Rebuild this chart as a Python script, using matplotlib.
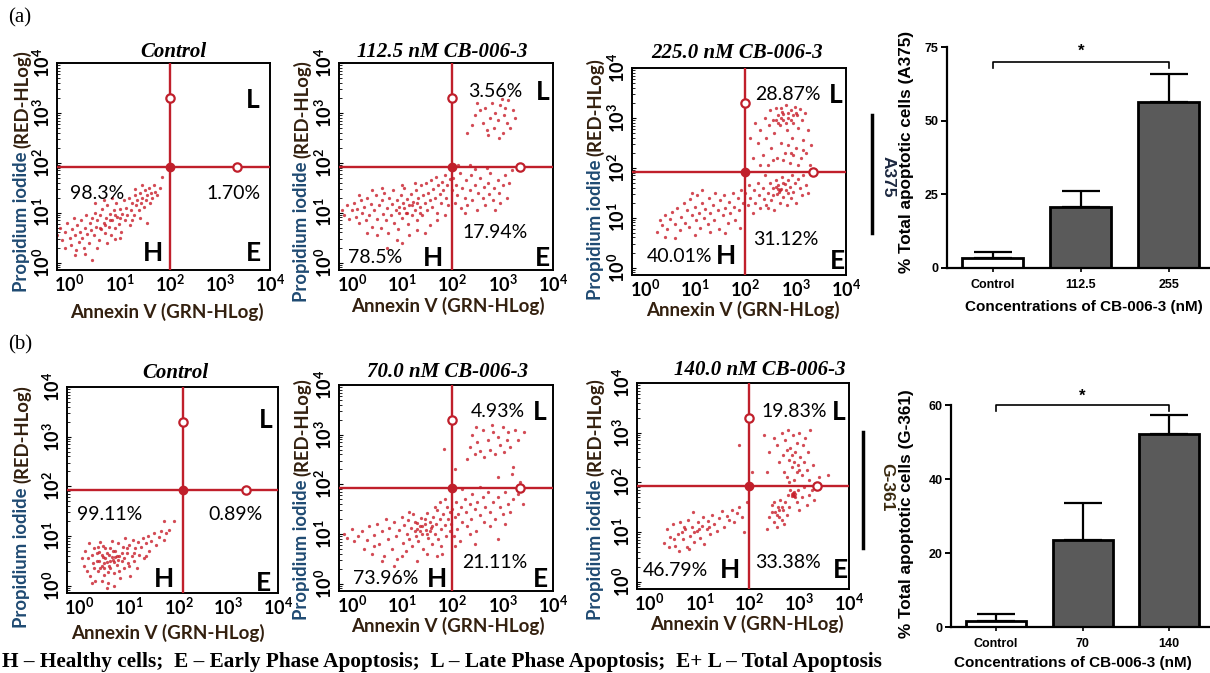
import numpy as np
import matplotlib
matplotlib.use('Agg')
import matplotlib.pyplot as plt
from matplotlib.lines import Line2D
from matplotlib.ticker import LogLocator, NullLocator

W, H = 1210, 673
plt.rcParams['font.family'] = ['Lato', 'DejaVu Sans']
plt.rcParams['mathtext.fontset'] = 'custom'
plt.rcParams['mathtext.rm'] = 'Lato'
plt.rcParams['mathtext.bf'] = 'Lato:bold'
plt.rcParams['mathtext.it'] = 'Lato:italic'

RED = '#c01f2b'
DOT = '#c81e2a'
PI_BLUE = '#1f4a72'
BROWN = '#33200f'

# ---- flow cytometry events, log10 decades: (Annexin V, Propidium iodide) ----
a375_ctrl = np.array([
    (-0.25, 0.55), (-0.2, 0.7), (-0.15, 0.45), (-0.1, 0.62), (-0.05, 0.8), (0.0, 0.5), (0.02, 0.35),
    (0.05, 0.68), (0.08, 0.9), (0.1, 0.55), (0.12, 0.25), (0.15, 0.75), (0.18, 0.42), (0.2, 0.62),
    (0.22, 0.85), (0.25, 0.5), (0.28, 0.3), (0.3, 0.7), (0.32, 0.95), (0.35, 0.58), (0.38, 0.4),
    (0.4, 0.8), (0.1, 0.15), (0.3, 0.18), (0.45, 0.05), (-0.1, 0.3), (0.42, 0.65), (0.45, 0.9),
    (0.48, 0.55), (0.5, 1.0), (0.52, 0.72), (0.55, 0.85), (0.58, 0.45), (0.6, 0.95), (0.62, 0.68),
    (0.65, 1.08), (0.68, 0.8), (0.7, 0.6), (0.72, 0.9), (0.75, 1.15), (0.78, 0.72), (0.8, 0.98),
    (0.82, 0.55), (0.85, 0.85), (0.88, 1.05), (0.9, 0.7), (0.92, 1.2), (0.95, 0.92), (0.98, 0.78),
    (1.0, 1.08), (1.02, 0.62), (1.05, 0.98), (1.08, 1.25), (1.1, 0.85), (1.12, 1.1), (1.15, 0.95),
    (1.18, 1.3), (1.2, 0.75), (0.55, 0.3), (0.75, 0.4), (0.9, 0.48), (0.5, 1.2), (0.68, 1.25),
    (0.85, 1.3), (1.0, 0.5), (1.22, 1.05), (1.25, 1.2), (1.28, 0.95), (1.3, 1.35), (1.32, 1.15),
    (1.35, 1.25), (1.38, 1.05), (1.4, 1.4), (1.42, 1.2), (1.45, 1.3), (1.48, 1.12), (1.5, 1.45),
    (1.52, 1.25), (1.55, 1.35), (1.58, 1.5), (1.6, 1.2), (1.62, 1.4), (1.65, 1.3), (1.68, 1.55),
    (1.7, 1.42), (1.75, 1.35), (1.8, 1.5), (1.25, 0.85), (1.4, 0.9), (1.55, 0.8), (1.85, 1.72),
    (1.45, 1.55), (1.3, 1.48), (0.7, 0.75), (0.8, 0.85), (0.9, 0.95), (1.0, 0.9), (0.6, 0.7),
])
a375_112 = np.array([
    (2.3, 2.6), (2.45, 2.95), (2.55, 3.05), (2.6, 2.8), (2.65, 3.1), (2.7, 2.55), (2.75, 2.9),
    (2.78, 3.2), (2.82, 2.7), (2.85, 3.0), (2.9, 2.85), (2.95, 3.15), (3.0, 2.6), (3.02, 2.95),
    (3.08, 2.8), (3.1, 3.25), (3.15, 2.7), (3.2, 3.05), (3.25, 2.9), (2.5, 3.2), (2.68, 2.65),
    (2.92, 2.5), (3.05, 3.1), (2.4, 2.75), (2.98, 3.28),
    (-0.2, 1.05), (-0.15, 0.95), (-0.1, 1.15), (-0.05, 0.88), (0.0, 1.05), (0.05, 1.2), (0.08, 0.92),
    (0.1, 1.08), (0.15, 0.8), (0.18, 1.25), (0.2, 1.0), (0.25, 1.12), (0.28, 0.85), (0.3, 1.3),
    (0.35, 0.95), (0.38, 1.18), (0.4, 0.72), (0.45, 1.05), (0.48, 1.35), (0.5, 0.88), (0.55, 1.15),
    (0.58, 0.7), (0.6, 1.25), (0.62, 0.98), (0.65, 1.4), (0.68, 0.85), (0.7, 1.1), (0.72, 0.6),
    (0.75, 1.3), (0.78, 0.95), (0.8, 1.18), (0.82, 1.45), (0.85, 0.8), (0.88, 1.05), (0.9, 1.25),
    (0.92, 0.68), (0.95, 1.12), (0.98, 1.35), (1.0, 0.9), (1.02, 1.2), (1.05, 1.5), (1.08, 1.0),
    (1.1, 1.28), (1.12, 0.78), (1.15, 1.15), (1.18, 1.38), (1.2, 0.95), (1.22, 1.22), (1.25, 1.05),
    (1.28, 1.45), (1.3, 0.85), (1.32, 1.3), (1.35, 1.12), (1.38, 1.55), (1.4, 0.95), (1.42, 1.35),
    (1.45, 1.2), (1.48, 1.6), (1.5, 1.05), (1.52, 1.4), (1.55, 1.25), (1.58, 1.65), (1.6, 1.12),
    (1.62, 1.48), (1.65, 1.3), (1.68, 1.72), (1.7, 1.0), (1.72, 1.55), (1.75, 1.38), (1.78, 1.2),
    (1.8, 1.62), (1.82, 1.45), (1.85, 1.75), (1.88, 1.3), (1.9, 1.55), (1.92, 1.15), (1.95, 1.68),
    (0.9, 0.45), (1.15, 0.55), (1.3, 0.65), (1.55, 0.75), (0.7, 0.3), (1.0, 0.4), (0.3, 0.6),
    (0.5, 0.55), (1.25, 1.6), (1.0, 1.55), (0.6, 1.5), (1.7, 0.85), (1.45, 0.6), (1.85, 0.95),
    (0.15, 1.35), (0.4, 1.45), (1.1, 1.0), (1.35, 1.0), (1.2, 1.15), (1.05, 1.1), (1.3, 1.2),
    (0.95, 1.0),
    (2.0, 1.45), (2.02, 1.7), (2.05, 1.2), (2.08, 1.55), (2.1, 1.35), (2.15, 1.8), (2.18, 1.1),
    (2.2, 1.5), (2.25, 1.3), (2.28, 1.65), (2.3, 1.15), (2.35, 1.45), (2.38, 1.75), (2.4, 1.25),
    (2.45, 1.55), (2.5, 1.05), (2.52, 1.4), (2.55, 1.7), (2.6, 1.3), (2.62, 1.52), (2.65, 1.15),
    (2.7, 1.6), (2.72, 1.38), (2.75, 1.8), (2.8, 1.25), (2.82, 1.5), (2.85, 1.05), (2.9, 1.65),
    (2.92, 1.4), (2.95, 1.2), (3.0, 1.55), (3.05, 1.75), (3.08, 1.3), (3.12, 1.6), (3.18, 1.85),
    (2.25, 1.0), (2.45, 1.88), (2.68, 1.9), (2.12, 1.95), (2.35, 1.95),
])
a375_225 = np.array([
    (0.25, 0.72), (0.3, 0.95), (0.35, 0.85), (0.4, 1.05), (0.45, 0.78), (0.5, 0.98), (0.55, 1.12),
    (0.6, 0.88), (0.65, 1.2), (0.7, 0.75), (0.72, 1.02), (0.78, 1.3), (0.8, 0.9), (0.85, 1.15),
    (0.88, 0.82), (0.9, 1.38), (0.95, 1.05), (1.0, 1.22), (1.02, 0.95), (1.05, 1.45), (1.08, 1.1),
    (1.1, 0.8), (1.15, 1.3), (1.18, 1.0), (1.2, 1.18), (1.25, 0.88), (1.28, 1.4), (1.3, 1.1),
    (1.35, 1.25), (1.38, 0.95), (1.4, 1.5), (1.45, 1.15), (1.48, 0.78), (1.5, 1.35), (1.55, 1.05),
    (1.58, 1.45), (1.6, 1.2), (1.65, 0.9), (1.68, 1.32), (1.7, 1.1), (1.75, 1.5), (1.78, 1.22),
    (1.8, 0.95), (1.85, 1.4), (1.88, 1.15), (1.92, 1.55), (1.95, 1.3), (0.6, 0.6), (1.0, 0.65),
    (1.3, 0.72), (1.9, 0.8), (0.4, 0.62), (0.95, 1.5), (1.6, 0.7), (1.15, 1.55),
    (2.0, 1.5), (2.05, 1.25), (2.08, 1.65), (2.1, 1.4), (2.15, 1.1), (2.18, 1.55), (2.2, 1.3),
    (2.25, 1.7), (2.28, 1.45), (2.3, 1.2), (2.35, 1.6), (2.38, 1.38), (2.4, 1.85), (2.42, 1.25),
    (2.45, 1.5), (2.5, 1.7), (2.52, 1.35), (2.55, 1.6), (2.58, 1.15), (2.6, 1.75), (2.62, 1.48),
    (2.65, 1.65), (2.68, 1.3), (2.7, 1.58), (2.72, 1.82), (2.75, 1.42), (2.78, 1.68), (2.8, 1.55),
    (2.82, 1.25), (2.85, 1.75), (2.88, 1.62), (2.9, 1.4), (2.92, 1.85), (2.95, 1.52), (2.98, 1.7),
    (3.0, 1.3), (3.05, 1.78), (3.08, 1.6), (3.12, 1.45), (3.15, 1.85), (3.2, 1.65), (3.25, 1.5),
    (2.6, 1.62), (2.64, 1.58), (2.68, 1.55), (2.66, 1.52), (2.55, 1.45), (2.75, 1.7), (2.45, 1.2),
    (2.85, 1.5),
    (2.2, 2.9), (2.25, 2.5), (2.3, 2.75), (2.35, 2.25), (2.4, 3.0), (2.42, 2.6), (2.45, 2.05),
    (2.48, 2.85), (2.5, 3.15), (2.52, 2.4), (2.55, 2.95), (2.58, 2.7), (2.6, 3.2), (2.62, 2.2),
    (2.65, 3.05), (2.68, 2.85), (2.7, 2.5), (2.72, 3.12), (2.75, 2.95), (2.78, 2.3), (2.8, 3.25),
    (2.82, 2.75), (2.85, 3.0), (2.88, 2.1), (2.9, 3.15), (2.92, 2.6), (2.95, 2.9), (2.98, 3.22),
    (3.0, 2.4), (3.02, 3.05), (3.05, 2.8), (3.08, 3.18), (3.1, 2.2), (3.12, 2.95), (3.15, 2.55),
    (3.18, 3.1), (3.2, 2.3), (3.25, 2.75), (3.28, 2.05), (3.3, 2.45), (2.6, 2.95), (2.7, 3.0),
    (2.75, 3.08), (2.85, 3.1), (2.9, 2.95), (2.95, 3.05), (2.65, 2.9), (2.8, 2.9), (3.0, 3.1),
    (2.7, 3.2), (2.85, 2.45), (2.95, 2.25), (3.05, 2.05), (2.75, 2.15), (2.55, 2.15), (3.15, 2.35),
    (2.9, 2.3), (2.3, 2.05), (2.1, 2.6), (2.15, 2.2),
])
g361_ctrl = np.array([
    (0.05, 0.55), (0.1, 0.4), (0.12, 0.7), (0.15, 0.3), (0.18, 0.55), (0.2, 0.85), (0.22, 0.2),
    (0.25, 0.62), (0.28, 0.45), (0.3, 0.75), (0.32, 0.1), (0.35, 0.5), (0.38, 0.3), (0.4, 0.68),
    (0.42, 0.88), (0.45, 0.4), (0.48, 0.58), (0.5, 0.22), (0.52, 0.75), (0.55, 0.48), (0.58, 0.05),
    (0.6, 0.62), (0.62, 0.35), (0.65, 0.9), (0.68, 0.52), (0.7, 0.25), (0.72, 0.7), (0.75, 0.42),
    (0.78, 0.85), (0.8, 0.6), (0.82, 0.15), (0.85, 0.5), (0.88, 0.78), (0.9, 0.35), (0.92, 0.95),
    (0.95, 0.65), (0.98, 0.45), (1.0, 0.82), (1.02, 0.2), (1.05, 0.6), (1.08, 0.92), (1.1, 0.5),
    (1.12, 0.75), (1.15, 0.35), (1.18, 0.88), (1.2, 0.62), (1.25, 0.78), (1.28, 0.95), (1.3, 0.55),
    (1.35, 0.85), (1.38, 1.0), (1.4, 0.7), (1.45, 0.9), (1.5, 1.05), (1.55, 0.82), (1.6, 0.98),
    (1.65, 1.1), (1.7, 0.92), (1.75, 1.05), (1.8, 1.12), (0.4, 0.5), (0.45, 0.62), (0.5, 0.45),
    (0.55, 0.65), (0.6, 0.4), (0.65, 0.58), (0.7, 0.48), (0.75, 0.6), (0.42, 0.35), (0.58, 0.28),
    (0.62, 0.75), (0.48, 0.8), (0.68, 0.7), (0.52, 0.55), (0.35, 0.65), (0.3, 0.35), (0.8, 0.3),
    (0.9, 0.55), (1.0, 0.4), (0.55, -0.05), (0.7, 0.0), (0.45, 0.1), (0.25, 0.05), (0.85, 0.65),
    (0.95, 0.75), (1.1, 0.65), (0.38, 0.78), (0.62, 0.5), (0.78, 0.52), (0.5, 0.35), (0.72, 0.58),
    (1.7, 1.3), (1.35, 0.6), (1.9, 1.3),
])
g361_70 = np.array([
    (-0.15, 1.0), (-0.1, 0.92), (0.0, 1.1), (0.05, 0.85), (0.12, 0.95), (0.2, 1.05), (0.25, 0.7),
    (0.3, 0.88), (0.35, 1.15), (0.4, 0.6), (0.45, 0.98), (0.5, 1.2), (0.55, 0.8), (0.6, 1.05),
    (0.65, 0.55), (0.68, 1.3), (0.72, 0.9), (0.75, 1.12), (0.8, 0.7), (0.85, 1.25), (0.88, 0.95),
    (0.9, 0.5), (0.95, 1.08), (1.0, 1.35), (1.02, 0.82), (1.05, 1.18), (1.08, 0.65), (1.1, 1.0),
    (1.12, 1.28), (1.15, 0.9), (1.18, 1.12), (1.2, 0.75), (1.22, 1.4), (1.25, 1.05), (1.28, 0.95),
    (1.3, 1.22), (1.32, 0.85), (1.35, 1.15), (1.38, 1.32), (1.4, 1.0), (1.42, 0.7), (1.45, 1.2),
    (1.48, 1.08), (1.5, 1.42), (1.52, 0.92), (1.55, 1.25), (1.58, 1.12), (1.6, 0.8), (1.62, 1.35),
    (1.65, 1.0), (1.68, 1.2), (1.7, 1.48), (1.72, 0.9), (1.75, 1.3), (1.78, 1.1), (1.8, 0.6),
    (1.82, 1.4), (1.85, 1.18), (1.88, 0.95), (1.9, 1.55), (1.92, 1.3), (1.95, 1.05), (1.3, 1.1),
    (1.4, 1.15), (1.5, 1.0), (1.6, 1.15), (1.35, 1.05), (1.45, 1.3), (1.55, 1.05), (1.25, 1.25),
    (0.6, 0.45), (1.0, 0.55), (1.3, 0.45), (1.5, 0.6), (1.7, 0.55), (0.45, 0.75), (0.85, 0.35),
    (1.15, 1.45), (1.65, 1.55), (1.75, 1.65), (1.85, 1.7), (1.95, 1.45), (1.78, 0.75),
    (1.98, 1.2), (2.0, 1.5), (2.03, 0.95), (2.05, 1.35), (2.08, 1.65), (2.1, 1.1), (2.12, 1.4),
    (2.15, 0.85), (2.18, 1.55), (2.2, 1.25), (2.25, 1.7), (2.28, 1.45), (2.3, 1.15), (2.35, 1.6),
    (2.38, 1.3), (2.4, 1.8), (2.45, 1.5), (2.48, 1.05), (2.5, 1.65), (2.55, 1.38), (2.6, 1.75),
    (2.62, 1.25), (2.65, 1.55), (2.7, 1.85), (2.75, 1.45), (2.8, 1.65), (2.85, 1.3), (2.9, 1.75),
    (2.95, 1.55), (3.0, 1.4), (3.05, 1.85), (3.1, 1.6), (3.15, 1.45), (3.2, 1.7), (3.3, 1.8),
    (3.4, 1.6), (2.05, 0.75), (2.45, 0.8), (2.9, 0.9), (2.2, 1.9), (2.55, 1.95), (3.05, 1.2),
    (2.35, 1.0), (2.75, 1.15),
    (1.83, 2.72), (2.05, 2.3), (2.3, 2.5), (2.35, 2.75), (2.4, 3.0), (2.45, 2.6), (2.5, 2.85),
    (2.55, 2.68), (2.6, 3.1), (2.62, 2.55), (2.7, 2.9), (2.75, 2.7), (2.8, 3.05), (2.85, 2.6),
    (2.9, 2.95), (2.95, 2.8), (3.0, 3.15), (3.02, 2.65), (3.08, 2.9), (3.1, 3.05), (3.15, 2.75),
    (3.2, 2.35), (3.25, 3.1), (3.3, 2.9), (3.42, 3.05), (3.18, 2.2), (2.9, 2.15), (3.35, 2.05),
    (2.48, 3.15), (2.78, 3.2),
])
g361_140 = np.array([
    (0.3, 0.78), (0.35, 1.05), (0.42, 0.9), (0.48, 1.15), (0.52, 0.72), (0.58, 0.95), (0.62, 1.2),
    (0.68, 0.85), (0.72, 1.05), (0.75, 0.7), (0.78, 1.25), (0.82, 0.92), (0.85, 1.1), (0.88, 1.4),
    (0.9, 0.8), (0.95, 1.02), (0.98, 1.2), (1.02, 0.88), (1.05, 1.12), (1.08, 1.3), (1.1, 0.75),
    (1.15, 1.05), (1.18, 1.22), (1.22, 0.95), (1.25, 1.35), (1.3, 1.15), (1.35, 1.02), (1.4, 1.28),
    (1.45, 1.42), (1.5, 1.1), (1.55, 1.32), (1.6, 1.25), (1.65, 1.45), (1.7, 1.2), (1.75, 1.38),
    (1.8, 1.5), (1.85, 1.3), (0.5, 0.85), (0.65, 1.0), (0.8, 0.65), (0.9, 1.0), (1.0, 1.05),
    (0.6, 0.62), (0.7, 1.1), (1.2, 1.1), (0.4, 0.7), (1.9, 1.0), (1.95, 1.6),
    (2.35, 1.05), (2.4, 1.3), (2.45, 1.55), (2.5, 1.2), (2.52, 1.4), (2.55, 1.1), (2.58, 1.5),
    (2.6, 1.3), (2.62, 1.65), (2.65, 1.25), (2.68, 1.45), (2.7, 1.15), (2.72, 1.6), (2.75, 1.35),
    (2.78, 1.75), (2.8, 1.5), (2.82, 1.85), (2.85, 1.72), (2.87, 1.78), (2.88, 1.75), (2.9, 1.8),
    (2.92, 1.7), (2.89, 1.73), (2.86, 1.76), (2.91, 1.77), (2.95, 1.6), (2.98, 1.85), (3.0, 1.45),
    (3.05, 1.7), (3.1, 1.9), (3.15, 1.55), (3.2, 1.75), (3.25, 1.85), (3.3, 1.65), (2.45, 1.4),
    (2.55, 1.35), (2.65, 1.5), (2.5, 1.6), (2.6, 1.45),
    (2.35, 2.2), (2.4, 2.6), (2.5, 2.9), (2.55, 2.75), (2.6, 2.4), (2.65, 3.0), (2.68, 2.55),
    (2.7, 2.2), (2.72, 2.85), (2.75, 2.1), (2.78, 3.05), (2.8, 2.45), (2.82, 2.7), (2.85, 2.3),
    (2.88, 2.95), (2.9, 2.05), (2.92, 2.6), (2.95, 2.8), (2.98, 2.35), (3.0, 3.0), (3.02, 2.5),
    (3.05, 2.15), (3.08, 2.75), (3.1, 2.4), (3.12, 2.9), (3.15, 2.25), (3.18, 2.6), (3.2, 2.05),
    (3.22, 3.05), (3.28, 2.35), (3.4, 2.1), (3.58, 2.15), (2.85, 2.55), (2.9, 2.4), (2.95, 2.2),
    (2.8, 2.0), (3.0, 2.25), (2.75, 2.65), (2.05, 2.2), (1.8, 2.75), (2.3, 2.95),
])

titles_a = ['Control', '112.5 nM CB-006-3', '225.0 nM CB-006-3']
titles_b = ['Control', '70.0 nM CB-006-3', '140.0 nM CB-006-3']
# quadrant percentages: (H, E, L)
pct_a = [('98.3%', '1.70%', ''), ('78.5%', '17.94%', '3.56%'), ('40.01%', '31.12%', '28.87%')]
pct_b = [('99.11%', '0.89%', ''), ('73.96%', '21.11%', '4.93%'), ('46.79%', '33.38%', '19.83%')]

# bar charts: mean % total apoptotic cells and upper error
cats_a = ['Control', '112.5', '255']
vals_a = [3.5, 20.8, 56.4]
errs_a = [1.8, 5.3, 9.4]
cats_b = ['Control', '70', '140']
vals_b = [1.7, 23.5, 52.2]
errs_b = [1.7, 9.9, 5.1]

caption = ('H \u2013 Healthy cells;  E \u2013 Early Phase Apoptosis;  L \u2013 Late Phase Apoptosis;  '
           'E+ L \u2013 Total Apoptosis')

fig = plt.figure(figsize=(W / 100, H / 100), dpi=100)


def add_ax(l, t, r, b):
    return fig.add_axes([l / W, 1 - b / H, (r - l) / W, (b - t) / H])


def ftext(x, y, s, **kw):
    return fig.text(x / W, 1 - y / H, s, **kw)


def flow_panel(box, pts, title, title_xy, pcts, pos, ylab, xlab_xy, qx=2.0, qy=1.92):
    ax = add_ax(*box)
    ax.set_xscale('log')
    ax.set_yscale('log')
    ax.set_xlim(10 ** -0.25, 1e4)
    ax.set_ylim(10 ** -0.15, 1e4)
    ax.scatter(10 ** pts[:, 0], 10 ** pts[:, 1], s=5.5, c=DOT, alpha=0.8, lw=0, zorder=2)
    ax.axvline(10 ** qx, color=RED, lw=1.7, zorder=3)
    ax.axhline(10 ** qy, color=RED, lw=1.7, zorder=3)
    ax.plot(10 ** qx, 10 ** qy, 'o', color=RED, ms=6, zorder=4)
    ax.plot(10 ** qx, 10 ** 3.3, 'o', mfc='white', mec=RED, mew=1.6, ms=6, zorder=4)
    ax.plot(10 ** 3.35, 10 ** qy, 'o', mfc='white', mec=RED, mew=1.6, ms=6, zorder=4)

    ticks = [1, 10, 100, 1000, 10000]
    labs = [r'$\mathbf{10^{%d}}$' % i for i in range(5)]
    ax.set_xticks(ticks)
    ax.set_xticklabels(labs, fontsize=13)
    ax.set_yticks(ticks)
    ax.set_yticklabels(labs, fontsize=13, rotation=90, va='center')
    ax.xaxis.set_minor_locator(NullLocator())
    ax.yaxis.set_minor_locator(LogLocator(subs=np.arange(2, 10)))
    ax.tick_params(axis='x', which='major', length=0, pad=2.5)
    ax.tick_params(axis='y', which='major', length=3, direction='in', pad=3)
    ax.tick_params(axis='y', which='minor', length=2, direction='in')
    for sp in ax.spines.values():
        sp.set_linewidth(1.4)

    h, e, l = pcts
    ax.text(*pos[0], h, transform=ax.transAxes, fontsize=14, ha='center', va='center')
    ax.text(*pos[1], e, transform=ax.transAxes, fontsize=14, ha='center', va='center')
    if l:
        ax.text(*pos[2], l, transform=ax.transAxes, fontsize=14, ha='center', va='center')
    for letter, p in zip('HEL', pos[3:]):
        ax.text(*p, letter, transform=ax.transAxes, fontsize=19, fontweight='bold',
                ha='center', va='center')

    ftext(*title_xy, title, family='Liberation Serif', fontsize=15, fontweight='bold',
          style='italic', ha='center', va='center')
    # y label in two colours
    ftext(ylab[0], ylab[1], 'Propidium iodide', rotation=90, rotation_mode='anchor',
          ha='right', va='center', fontsize=13.3, fontweight='bold', color=PI_BLUE)
    ftext(ylab[0], ylab[1] - 4, '(RED-HLog)', rotation=90, rotation_mode='anchor',
          ha='left', va='center', fontsize=13.3, fontweight='bold', color=BROWN)
    ftext(*xlab_xy, 'Annexin V (GRN-HLog)', ha='center', va='center', fontsize=13.5,
          fontweight='bold', color=BROWN)
    return ax


def bar_panel(box, cats, vals, errs, ytop, yticks, ylabel, ylab_xy, xlab_xy, br_y, br_drop, star_y):
    ax = add_ax(*box)
    x = np.arange(len(cats))
    colors = ['white'] + ['#5a5a5a'] * (len(cats) - 1)
    ax.errorbar(x, vals, yerr=[np.zeros(len(vals)), errs], fmt='none', ecolor='black',
                elinewidth=1.6, capsize=14, capthick=1.6, zorder=1)
    ax.bar(x, vals, width=0.69, color=colors, edgecolor='black', linewidth=2, zorder=2)
    ax.set_xlim(-0.52, 2.47)
    ax.set_ylim(0, ytop)
    ax.set_yticks(yticks)
    ax.set_yticklabels([str(t) for t in yticks], family='Liberation Sans', fontweight='bold',
                       fontsize=9)
    ax.set_xticks(x)
    ax.set_xticklabels(cats, family='Liberation Sans', fontweight='bold', fontsize=9)
    ax.tick_params(axis='y', length=4, width=1.4, pad=2)
    ax.tick_params(axis='x', length=3, width=1.2, pad=5)
    for s in ['top', 'right']:
        ax.spines[s].set_visible(False)
    ax.spines['left'].set_linewidth(1.6)
    ax.spines['bottom'].set_linewidth(1.6)
    ax.plot([0, 0, 2, 2], [br_y - br_drop, br_y, br_y, br_y - br_drop], color='black', lw=1.2,
            clip_on=False)
    ax.text(1, star_y, '*', ha='center', va='center', fontsize=12, fontweight='bold',
            family='Liberation Sans', clip_on=False)
    ftext(*ylab_xy, ylabel, rotation=90, ha='center', va='center', family='Liberation Sans',
          fontweight='bold', fontsize=12.3)
    ftext(*xlab_xy, 'Concentrations of CB-006-3 (nM)', ha='center', va='center',
          family='Liberation Sans', fontweight='bold', fontsize=11)
    return ax


boxes_a = [(57, 63, 270, 270), (339, 63, 553, 270), (632, 68, 846, 275)]
boxes_b = [(67, 387, 278, 593), (339, 385, 553, 591), (637, 383, 849, 589)]
tpos_a = [(173, 52), (442, 52), (737, 53)]
tpos_b = [(175, 373), (448, 372), (760, 370)]
ylab_a = [(22, 152), (302, 162), (595, 160)]
ylab_b = [(22, 487), (302, 480), (595, 480)]
xlab_a = [(167, 312), (448, 306), (743, 310)]
xlab_b = [(168, 633), (448, 626), (747, 624)]
lpos_a = [
    [(0.19, 0.37), (0.83, 0.37), None, (0.45, 0.08), (0.92, 0.08), (0.92, 0.82)],
    [(0.17, 0.06), (0.73, 0.18), (0.73, 0.86), (0.44, 0.06), (0.95, 0.06), (0.95, 0.86)],
    [(0.22, 0.09), (0.72, 0.17), (0.73, 0.87), (0.44, 0.09), (0.96, 0.07), (0.95, 0.87)],
]
lpos_b = [
    [(0.2, 0.38), (0.8, 0.38), None, (0.46, 0.07), (0.93, 0.05), (0.94, 0.84)],
    [(0.22, 0.06), (0.73, 0.14), (0.74, 0.87), (0.46, 0.06), (0.94, 0.06), (0.94, 0.87)],
    [(0.18, 0.09), (0.71, 0.13), (0.74, 0.86), (0.44, 0.09), (0.96, 0.09), (0.95, 0.86)],
]

for i, pts in enumerate([a375_ctrl, a375_112, a375_225]):
    flow_panel(boxes_a[i], pts, titles_a[i], tpos_a[i], pct_a[i], lpos_a[i], ylab_a[i], xlab_a[i])
for i, pts in enumerate([g361_ctrl, g361_70, g361_140]):
    qx = 2.09 if i == 0 else 2.0
    flow_panel(boxes_b[i], pts, titles_b[i], tpos_b[i], pct_b[i], lpos_b[i], ylab_b[i], xlab_b[i], qx=qx)

bar_panel((947, 47, 1210, 268), cats_a, vals_a, errs_a, 75, [0, 25, 50, 75],
          '% Total apoptotic cells (A375)', (907, 152), (1084, 307), 70, 2, 73.5)
bar_panel((951, 405, 1210, 627), cats_b, vals_b, errs_b, 60, [0, 20, 40, 60],
          '% Total apoptotic cells (G-361)', (907, 514), (1073, 663), 60, 1.7, 62.3)

# cell line markers
fig.add_artist(Line2D([872 / W, 872 / W], [1 - 115 / H, 1 - 233 / H], color='black', lw=2.5))
ftext(888, 177, 'A375', rotation=-90, ha='center', va='center', fontsize=12.5,
      fontweight='bold', color='#1c2840', family='Liberation Sans')
fig.add_artist(Line2D([863 / W, 863 / W], [1 - 432 / H, 1 - 548 / H], color='black', lw=2.5))
ftext(887, 487, 'G-361', rotation=-90, ha='center', va='center', fontsize=12.5,
      fontweight='bold', color='#3a2a10', family='Liberation Sans')

ftext(8, 18, '(a)', family='Liberation Serif', fontsize=15, va='center')
ftext(8, 345, '(b)', family='Liberation Serif', fontsize=15, va='center')
ftext(2, 662, caption, family='Liberation Serif', fontweight='bold', fontsize=15.3, va='center')

fig.savefig('out.png', dpi=100)
